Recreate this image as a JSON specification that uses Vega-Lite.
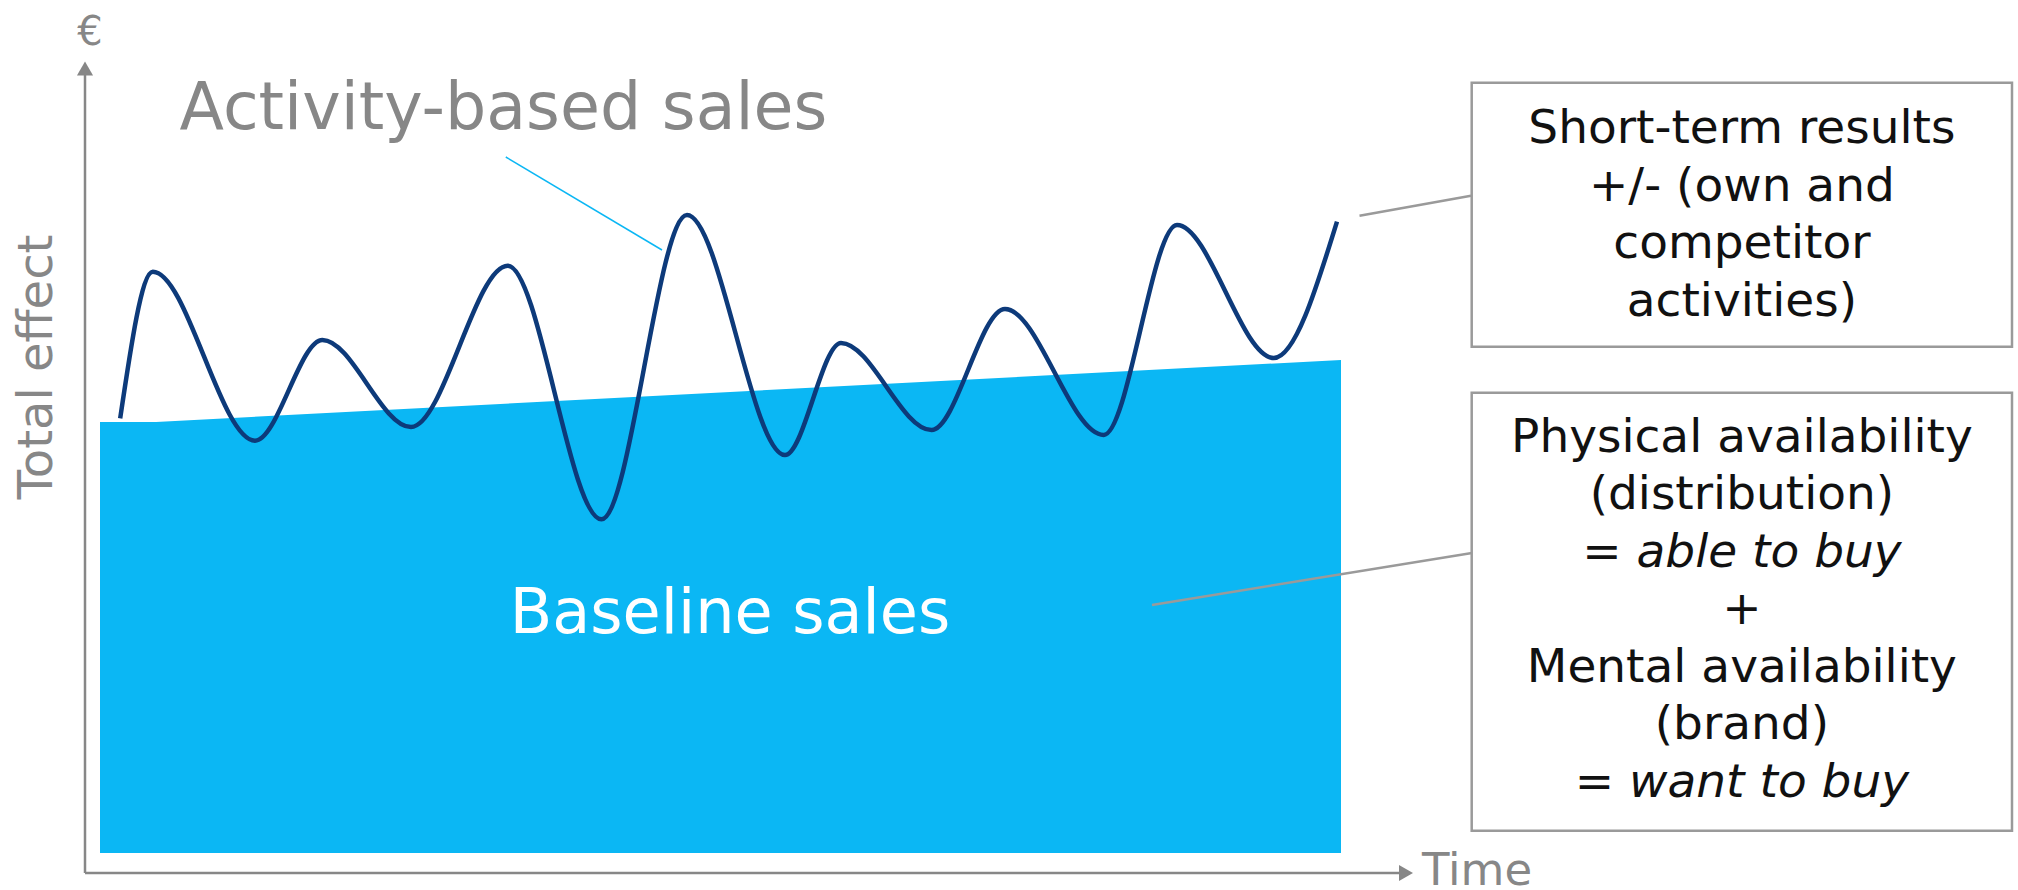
{
  "$schema": "https://vega.github.io/schema/vega-lite/v6.json",
  "width": 2018,
  "height": 890,
  "autosize": {"type": "none"},
  "padding": 0,
  "background": "white",
  "config": {"view": {"stroke": null}},
  "datasets": {
    "baseline": [
      {"t": 1.5, "top": 45.1, "bottom": 2.0},
      {"t": 7.1, "top": 45.1, "bottom": 2.0},
      {"t": 125.6, "top": 51.3, "bottom": 2.0}
    ],
    "activity": [
      {"t": 3.52, "v": 45.47},
      {"t": 6.78, "v": 60.13},
      {"t": 17.0, "v": 43.23},
      {"t": 23.74, "v": 53.3},
      {"t": 32.6, "v": 44.6},
      {"t": 42.27, "v": 60.73},
      {"t": 51.64, "v": 35.37},
      {"t": 60.2, "v": 65.8},
      {"t": 70.0, "v": 41.8},
      {"t": 75.6, "v": 53.0},
      {"t": 84.65, "v": 44.3},
      {"t": 92.0, "v": 56.4},
      {"t": 101.87, "v": 43.8},
      {"t": 109.2, "v": 64.8},
      {"t": 118.88, "v": 51.5},
      {"t": 125.2, "v": 65.13}
    ],
    "axes": [
      {"t": 0, "v": 0, "t2": 0, "v2": 80.0},
      {"t": 0, "v": 0, "t2": 131.5, "v2": 0}
    ],
    "arrows": [
      {"t": 0, "v": 80.45, "shape": "triangle-up"},
      {"t": 132.1, "v": 0, "shape": "triangle-right"}
    ],
    "blueLeader": [
      {"t": 42.08, "v": 71.6, "t2": 57.7, "v2": 62.3}
    ],
    "grayLeaders": [
      {"t": 127.45, "v": 65.73, "t2": 138.6, "v2": 67.73},
      {"t": 106.7, "v": 26.8, "t2": 138.7, "v2": 32.0}
    ],
    "boxes": [
      {"t": 138.67, "t2": 192.7, "v": 79.03, "v2": 52.63},
      {"t": 138.67, "t2": 192.7, "v": 48.03, "v2": 4.23}
    ],
    "boxText": [
      {"t": 165.69, "v": 72.97, "label": "Short-term results"},
      {"t": 165.69, "v": 67.22, "label": "+/- (own and"},
      {"t": 165.69, "v": 61.47, "label": "competitor"},
      {"t": 165.69, "v": 55.72, "label": "activities)"},
      {"t": 165.69, "v": 42.13, "label": "Physical availability"},
      {"t": 165.69, "v": 36.38, "label": "(distribution)"},
      {"t": 165.69, "v": 24.88, "label": "+"},
      {"t": 165.69, "v": 19.13, "label": "Mental availability"},
      {"t": 165.69, "v": 13.38, "label": "(brand)"}
    ],
    "boxItalic": [
      {"t": 165.69, "v": 30.63, "label": "= able to buy"},
      {"t": 165.69, "v": 7.63, "label": "= want to buy"}
    ]
  },
  "encoding": {
    "x": {"field": "t", "type": "quantitative", "scale": {"domain": [-8.5, 193.3], "nice": false, "zero": false}, "axis": null},
    "y": {"field": "v", "type": "quantitative", "scale": {"domain": [-1.7, 87.3], "nice": false, "zero": false}, "axis": null}
  },
  "layer": [
    {
      "data": {"name": "baseline"},
      "mark": {"type": "area", "color": "#0bb7f4", "opacity": 1},
      "encoding": {
        "y": {"field": "top", "type": "quantitative"},
        "y2": {"field": "bottom"}
      }
    },
    {
      "data": {"name": "activity"},
      "mark": {"type": "line", "interpolate": "monotone", "stroke": "#0d3a7a", "strokeWidth": 4.5},
      "encoding": {}
    },
    {
      "data": {"name": "axes"},
      "mark": {"type": "rule", "stroke": "#878787", "strokeWidth": 2.5},
      "encoding": {"x2": {"field": "t2"}, "y2": {"field": "v2"}}
    },
    {
      "data": {"name": "arrows"},
      "mark": {"type": "point", "filled": true, "color": "#878787", "size": 260, "opacity": 1},
      "encoding": {"shape": {"field": "shape", "type": "nominal", "scale": null}}
    },
    {
      "data": {"name": "blueLeader"},
      "mark": {"type": "rule", "stroke": "#0bb7f4", "strokeWidth": 1.5},
      "encoding": {"x2": {"field": "t2"}, "y2": {"field": "v2"}}
    },
    {
      "data": {"name": "grayLeaders"},
      "mark": {"type": "rule", "stroke": "#9a9a9a", "strokeWidth": 2.5},
      "encoding": {"x2": {"field": "t2"}, "y2": {"field": "v2"}}
    },
    {
      "data": {"name": "boxes"},
      "mark": {"type": "rect", "fill": "white", "fillOpacity": 0, "stroke": "#9a9a9a", "strokeWidth": 2.5},
      "encoding": {"x2": {"field": "t2"}, "y2": {"field": "v2"}}
    },
    {
      "data": {"name": "boxText"},
      "mark": {"type": "text", "font": "DejaVu Sans", "fontSize": 47, "color": "#111111", "align": "center", "baseline": "alphabetic"},
      "encoding": {"text": {"field": "label"}}
    },
    {
      "data": {"name": "boxItalic"},
      "mark": {"type": "text", "font": "DejaVu Sans", "fontSize": 47, "fontStyle": "italic", "color": "#111111", "align": "center", "baseline": "alphabetic"},
      "encoding": {"text": {"field": "label"}}
    },
    {
      "data": {"values": [{"t": 41.85, "v": 74.4, "label": "Activity-based sales"}]},
      "mark": {"type": "text", "font": "DejaVu Sans", "fontSize": 65, "color": "#878787", "align": "center", "baseline": "alphabetic"},
      "encoding": {"text": {"field": "label"}}
    },
    {
      "data": {"values": [{"t": 64.5, "v": 24.0, "label": "Baseline sales"}]},
      "mark": {"type": "text", "font": "DejaVu Sans", "fontSize": 62, "color": "white", "align": "center", "baseline": "alphabetic"},
      "encoding": {"text": {"field": "label"}}
    },
    {
      "data": {"values": [{"t": -3.3, "v": 50.6, "label": "Total effect"}]},
      "mark": {"type": "text", "font": "DejaVu Sans", "fontSize": 48, "color": "#878787", "align": "center", "baseline": "alphabetic", "angle": 270},
      "encoding": {"text": {"field": "label"}}
    },
    {
      "data": {"values": [{"t": 133.7, "v": -1.2, "label": "Time"}]},
      "mark": {"type": "text", "font": "DejaVu Sans", "fontSize": 45, "color": "#878787", "align": "left", "baseline": "alphabetic"},
      "encoding": {"text": {"field": "label"}}
    },
    {
      "data": {"values": [{"t": 0.5, "v": 82.8, "label": "€"}]},
      "mark": {"type": "text", "font": "DejaVu Sans", "fontSize": 40, "color": "#878787", "align": "center", "baseline": "alphabetic"},
      "encoding": {"text": {"field": "label"}}
    }
  ]
}
